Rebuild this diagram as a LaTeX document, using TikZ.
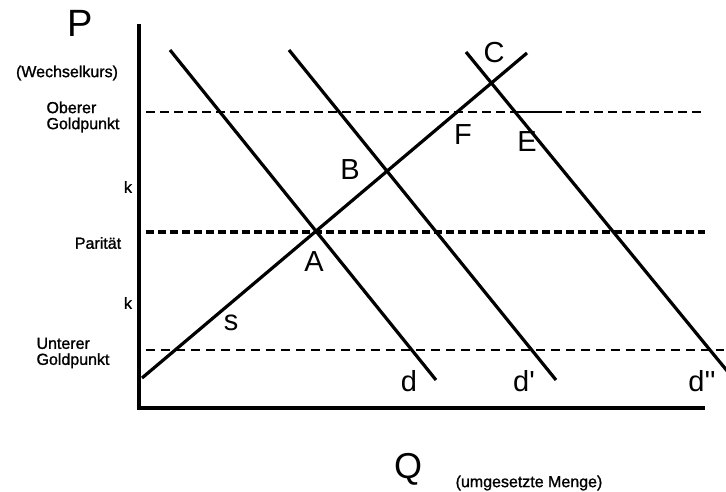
\documentclass[tikz,border=0pt]{standalone}
\usepackage{fontspec}
\setmainfont{Liberation Sans}
\newfontfamily\labelfont[FakeBold=1.2]{Liberation Sans}
\usetikzlibrary{positioning}

\begin{document}
\begin{tikzpicture}[x=1pt, y=-1pt,
    axis/.style={line width=4.5pt},
    curve/.style={line width=3.2pt},
    goldline/.style={line width=2.6pt, dash pattern=on 9pt off 5pt},
    parline/.style={line width=4.5pt, dash pattern=on 8pt off 4pt},
    lowline/.style={line width=1.3pt, dash pattern=on 9pt off 6pt},
    pt/.style={font=\fontsize{29}{29}\selectfont, inner sep=0pt},
    big/.style={font=\fontsize{38}{38}\selectfont, inner sep=0pt},
    lbl/.style={font=\labelfont\fontsize{16}{16}\selectfont, inner sep=0pt, align=left}]

\useasboundingbox (0,0) rectangle (726,492);

% Axes
\coordinate (ptop) at (139,24);
\coordinate (o) at (139,408);
\coordinate (qend) at (705,408);
\draw[axis] (ptop) -- (o) -- (qend);

% Price levels
\coordinate (og1) at (146,112);
\coordinate (og2) at (705,112);
\coordinate (eg1) at (518,112);
\coordinate (eg2) at (562,112);
\coordinate (pa1) at (146,232);
\coordinate (pa2) at (705,232);
\coordinate (ug1) at (146,350);
\coordinate (ug2) at (724,350);
\draw[goldline] (og1) -- (og2);
\draw[line width=2.6pt] (eg1) -- (eg2);
\draw[parline] (pa1) -- (pa2);
\draw[lowline] (ug1) -- (ug2);

% Supply and demand
\coordinate (s1) at (142,378);
\coordinate (s2) at (527,53);
\coordinate (d1) at (170,50);
\coordinate (d2) at (436,380);
\coordinate (dd1) at (289,50);
\coordinate (dd2) at (556,380);
\coordinate (ddd1) at (466,52);
\coordinate (ddd2) at (728,372);
\draw[curve] (s1) -- (s2);
\draw[curve] (d1) -- (d2);
\draw[curve] (dd1) -- (dd2);
\draw[curve] (ddd1) -- (ddd2);

% Axis labels
\node[big] (p) at (80,23) {P};
\node[big, font=\fontsize{36}{36}\selectfont] (q) at (408,469) {Q};
\node[lbl] (wk) at (67,73) {(Wechselkurs)};
\node[lbl] (menge) at (529,483) {(umgesetzte Menge)};
\node[lbl] (ober) at (83,117) {Oberer\\Goldpunkt};
\node[lbl] (k1) at (128,187) {k};
\node[lbl] (par) at (98,243) {Parität};
\node[lbl] (k2) at (128,303) {k};
\node[lbl] (unter) at (73,353) {Unterer\\Goldpunkt};

% Points
\node[pt] (a) at (314,262) {A};
\node[pt] (b) at (350,170) {B};
\node[pt] (c) at (494,53) {C};
\node[pt] (f) at (463,135) {F};
\node[pt] (e) at (527,142) {E};
\node[pt] (s) at (231,323) {s};
\node[pt] (d) at (409,381) {d};
\node[pt] (dd) at (524,381) {d\textquotesingle};
\node[pt] (ddd) at (702,381) {d\textquotesingle\textquotesingle};

\end{tikzpicture}
\end{document}
